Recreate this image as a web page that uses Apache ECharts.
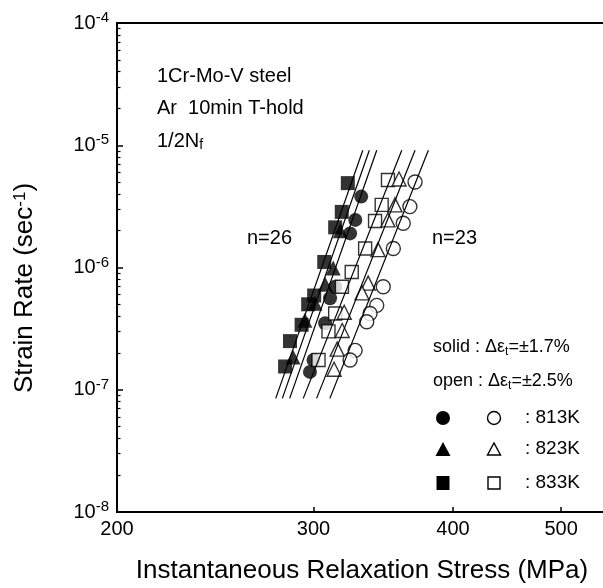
<!DOCTYPE html>
<html>
<head>
<meta charset="utf-8">
<script src="https://cdn.jsdelivr.net/npm/echarts@6/dist/echarts.min.js"></script>
<style>
  html, body { margin: 0; padding: 0; background: #fff; }
  #chart { width: 603px; height: 588px; }
</style>
</head>
<body>
<div id="chart"></div>
<script>
// stress (MPa), strain rate (1/s)
const solid813 = [[331, 3.8e-6], [327, 2.45e-6], [323.5, 1.9e-6], [313.7, 6.95e-7], [310.4, 5.6e-7], [307.3, 3.5e-7], [300, 1.75e-7], [297.8, 1.4e-7]];
const solid823 = [[317, 2.0e-6], [312.4, 9.9e-7], [307.3, 7.3e-7], [300.9, 5.1e-7], [294.7, 3.7e-7], [287.6, 1.85e-7]];
const solid833 = [[322, 4.9e-6], [318, 2.85e-6], [313.7, 2.13e-6], [306.7, 1.11e-6], [300.4, 5.9e-7], [296.7, 5.0e-7], [292.7, 3.4e-7], [285.8, 2.5e-7], [282.9, 1.55e-7]];
const open813 = [[369.9, 5.0e-6], [366, 3.15e-6], [361, 2.3e-6], [353.7, 1.43e-6], [346.4, 6.95e-7], [341.8, 4.9e-7], [337.1, 4.2e-7], [334.8, 3.6e-7], [326.9, 2.1e-7], [323.5, 1.75e-7]];
const open823 = [[357.9, 5.3e-6], [354.9, 3.25e-6], [349.8, 2.45e-6], [342.7, 1.4e-6], [335.8, 7.45e-7], [331.6, 6.2e-7], [319.6, 4.3e-7], [318.3, 3.05e-7], [315, 2.15e-7], [313, 1.47e-7]];
const open833 = [[349.8, 5.2e-6], [345.3, 3.25e-6], [340.6, 2.4e-6], [333.7, 1.43e-6], [324.6, 9.2e-7], [318.1, 6.95e-7], [313.7, 4.2e-7], [309.4, 3.0e-7], [303.1, 1.75e-7]];

// fitted lines, end points
const fitSolid833 = [[277.5, 8.5e-8], [332.1, 9.1e-6]];
const fitSolid823 = [[281.3, 8.5e-8], [336.6, 9.1e-6]];
const fitSolid813 = [[285.6, 8.5e-8], [341.8, 9.1e-6]];
const fitOpen833 = [[293.7, 8.5e-8], [359.9, 9.1e-6]];
const fitOpen823 = [[301.9, 8.5e-8], [369.9, 9.1e-6]];
const fitOpen813 = [[310.3, 8.5e-8], [380.2, 9.1e-6]];

const stressTicks = [200, 300, 400, 500];
const stressRange = [200, 600];
const rateRange = [1e-8, 1e-4];

const FONT = 'Liberation Sans, Arial, sans-serif';
const chart = echarts.init(document.getElementById('chart'));

// minor ticks 2..9 of each decade, in log space
const minorTicks = [];
for (let e = -8; e < -4; e++) {
  for (let k = 2; k <= 9; k++) minorTicks.push(e + Math.log10(k));
}

function scatter(name, data, symbol, size, filled) {
  return {
    name: name,
    type: 'scatter',
    xAxisIndex: 0,
    yAxisIndex: 0,
    data: data,
    symbol: symbol,
    symbolSize: size,
    z: filled ? 2 : 3,
    itemStyle: filled
      ? { color: '#000' }
      : { color: '#fff', borderColor: '#000', borderWidth: 1.4 }
  };
}

function fitLine(data) {
  return {
    type: 'line',
    xAxisIndex: 0,
    yAxisIndex: 0,
    data: data,
    showSymbol: false,
    z: 4,
    lineStyle: { color: '#000', width: 1.2 }
  };
}

const txt = (x, y, text, size, extra) => ({
  type: 'text',
  x: x,
  y: y,
  style: Object.assign({
    text: text,
    fontFamily: FONT,
    fontSize: size,
    fill: '#000',
    verticalAlign: 'middle'
  }, extra || {})
});

const subRich = size => ({
  t: { fontFamily: FONT, fontSize: size, color: '#000' },
  sub: { fontFamily: FONT, fontSize: Math.round(size * 0.68), color: '#000', padding: [9, 0, 0, 0] },
  sup: { fontFamily: FONT, fontSize: Math.round(size * 0.65), color: '#000', padding: [0, 0, 10, 0] }
});

const legendRows = [418, 449, 483];

const option = {
  animation: false,
  backgroundColor: '#fff',
  grid: {
    left: 117,
    top: 23,
    width: 532.5,
    height: 489,
    outerBoundsMode: 'none',
    containLabel: false,
    show: true,
    borderColor: '#000',
    borderWidth: 2,
    backgroundColor: 'transparent'
  },
  xAxis: [
    {
      type: 'log',
      logBase: 10,
      min: stressRange[0],
      max: stressRange[1],
      axisLine: { show: false },
      axisTick: { show: false },
      axisLabel: { show: false },
      splitLine: { show: false }
    },
    {
      type: 'value',
      min: Math.log10(stressRange[0]),
      max: Math.log10(stressRange[1]),
      position: 'bottom',
      axisLine: { show: false },
      splitLine: { show: false },
      axisTick: {
        inside: true,
        length: 5,
        customValues: stressTicks.map(v => Math.log10(v)),
        lineStyle: { color: '#000', width: 1.5 }
      },
      axisLabel: {
        customValues: stressTicks.map(v => Math.log10(v)),
        formatter: v => String(Math.round(Math.pow(10, v))),
        fontFamily: FONT,
        fontSize: 20,
        color: '#000',
        margin: 7
      }
    }
  ],
  yAxis: [
    {
      type: 'log',
      logBase: 10,
      min: rateRange[0],
      max: rateRange[1],
      axisLine: { show: false },
      splitLine: { show: false },
      axisTick: { inside: true, length: 6, lineStyle: { color: '#000', width: 1.5 } },
      axisLabel: {
        margin: 8,
        formatter: v => '{b|10}{s|' + Math.round(Math.log10(v)) + '}',
        rich: {
          b: { fontFamily: FONT, fontSize: 20, color: '#000' },
          s: { fontFamily: FONT, fontSize: 15, color: '#000', padding: [0, 0, 10, 0] }
        }
      }
    },
    {
      type: 'value',
      min: -8,
      max: -4,
      position: 'left',
      axisLine: { show: false },
      splitLine: { show: false },
      axisLabel: { show: false },
      axisTick: {
        inside: true,
        length: 3.5,
        customValues: minorTicks,
        lineStyle: { color: '#000', width: 1.2 }
      }
    }
  ],
  series: [
    scatter('solid 833K', solid833, 'rect', 14, true),
    scatter('solid 823K', solid823, 'triangle', 15, true),
    scatter('solid 813K', solid813, 'circle', 14, true),
    scatter('open 833K', open833, 'rect', 13, false),
    scatter('open 823K', open823, 'triangle', 14, false),
    scatter('open 813K', open813, 'circle', 14, false),
    fitLine(fitSolid833),
    fitLine(fitSolid823),
    fitLine(fitSolid813),
    fitLine(fitOpen833),
    fitLine(fitOpen823),
    fitLine(fitOpen813)
  ],
  graphic: [
    txt(157, 76, '1Cr-Mo-V steel', 20),
    txt(157, 108, 'Ar  10min T-hold', 20),
    txt(157, 141, '{t|1/2N}{sub|f}', 20, { rich: subRich(20) }),
    txt(247, 238, 'n=26', 20),
    txt(432, 238, 'n=23', 20),
    txt(433, 347, '{t|solid : Δε}{sub|t}{t|=±1.7%}', 18, { rich: subRich(18) }),
    txt(433, 381, '{t|open : Δε}{sub|t}{t|=±2.5%}', 18, { rich: subRich(18) }),
    // legend symbols
    { type: 'circle', shape: { cx: 443, cy: legendRows[0], r: 7 }, style: { fill: '#000' } },
    { type: 'circle', shape: { cx: 494, cy: legendRows[0], r: 6.5 }, style: { fill: '#fff', stroke: '#000', lineWidth: 1.4 } },
    { type: 'polygon', shape: { points: [[435.5, legendRows[1] + 7], [450.5, legendRows[1] + 7], [443, legendRows[1] - 7]] }, style: { fill: '#000' } },
    { type: 'polygon', shape: { points: [[487.5, legendRows[1] + 6], [500.5, legendRows[1] + 6], [494, legendRows[1] - 6]] }, style: { fill: '#fff', stroke: '#000', lineWidth: 1.4 } },
    { type: 'rect', shape: { x: 436.5, y: legendRows[2] - 7, width: 13, height: 14 }, style: { fill: '#000' } },
    { type: 'rect', shape: { x: 488, y: legendRows[2] - 6, width: 12, height: 12 }, style: { fill: '#fff', stroke: '#000', lineWidth: 1.4 } },
    txt(525, legendRows[0], ': 813K', 19),
    txt(525, legendRows[1], ': 823K', 19),
    txt(525, legendRows[2], ': 833K', 19),
    // axis titles
    txt(362, 571, 'Instantaneous Relaxation Stress (MPa)', 26, { align: 'center' }),
    {
      type: 'text',
      x: 25,
      y: 288,
      rotation: Math.PI / 2,
      style: {
        text: '{t|Strain Rate (sec}{sup|-1}{t|)}',
        rich: subRich(26),
        align: 'center',
        verticalAlign: 'middle'
      }
    }
  ]
};

chart.setOption(option);
</script>
</body>
</html>
